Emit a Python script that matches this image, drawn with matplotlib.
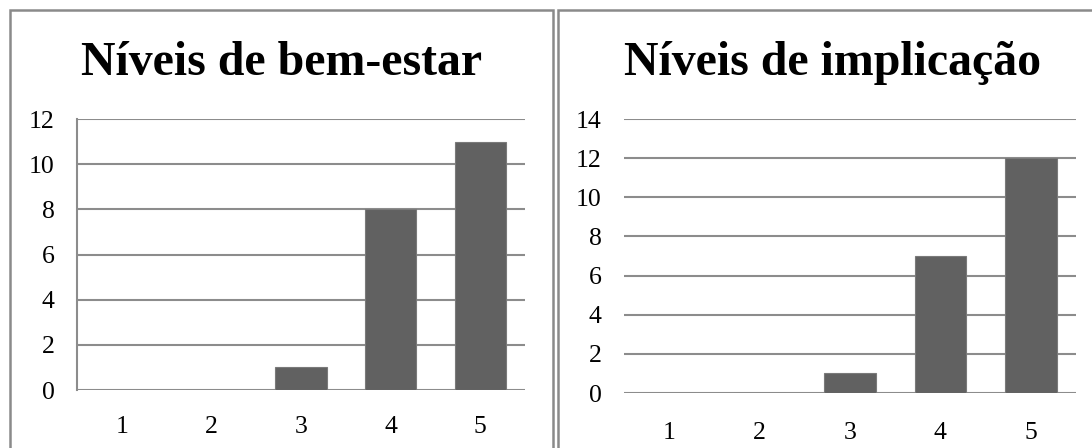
import matplotlib.pyplot as plt
from matplotlib.patches import Rectangle

# data
categories = ["1", "2", "3", "4", "5"]
bem_estar = [0, 0, 1, 8, 11]
implicacao = [0, 0, 1, 7, 12]
titles = ["Níveis de bem-estar", "Níveis de implicação"]

W, H = 1092, 448
plt.rcParams['font.family'] = ['Liberation Serif', 'DejaVu Serif']

fig = plt.figure(figsize=(W / 100, H / 100), dpi=100)

grid_col = '#8c8c8c'
bar_col = '#616161'


def px_axes(x0, y0, x1, y1):
    # pixel box (top-left origin) -> figure coords
    return fig.add_axes([x0 / W, 1 - y1 / H, (x1 - x0) / W, (y1 - y0) / H])


def draw_panel(ax, values, ymax, show_left, xpad):
    ax.bar(range(len(values)), values, width=0.57, color=bar_col,
           edgecolor='#7a7a7a', linewidth=0.8, zorder=3)
    ax.set_xlim(-0.5, len(values) - 0.5)
    ax.set_ylim(0, ymax)
    ax.set_yticks(range(0, ymax + 1, 2))
    ax.set_xticks(range(len(values)))
    ax.set_xticklabels(categories)
    ax.yaxis.grid(True, color=grid_col, linewidth=1.5, zorder=0)
    ax.tick_params(axis='y', length=0, pad=16, labelsize=18.5)
    ax.tick_params(axis='x', length=0, pad=xpad, labelsize=18.5)
    for s in ['top', 'right', 'bottom']:
        ax.spines[s].set_visible(False)
    ax.spines['left'].set_visible(show_left)
    ax.spines['left'].set_color(grid_col)
    ax.spines['left'].set_linewidth(1.5)


ax1 = px_axes(77, 119, 525, 390)
draw_panel(ax1, bem_estar, 12, True, 19)
ax2 = px_axes(624, 119, 1076, 393)
draw_panel(ax2, implicacao, 14, False, 21)

# panel frames
for x0, x1 in [(10, 553), (558, 1110)]:
    fig.add_artist(Rectangle((x0 / W, -0.1), (x1 - x0) / W, 1 - 10 / H + 0.1,
                             transform=fig.transFigure, fill=False,
                             edgecolor='#8a8a8a', linewidth=1.8))

fig.text(282 / W, 1 - 75 / H, titles[0], ha='center', va='baseline',
         fontsize=34.5, fontweight='bold')
fig.text(833 / W, 1 - 75 / H, titles[1], ha='center', va='baseline',
         fontsize=34.5, fontweight='bold')

fig.savefig('out.png', dpi=100)
